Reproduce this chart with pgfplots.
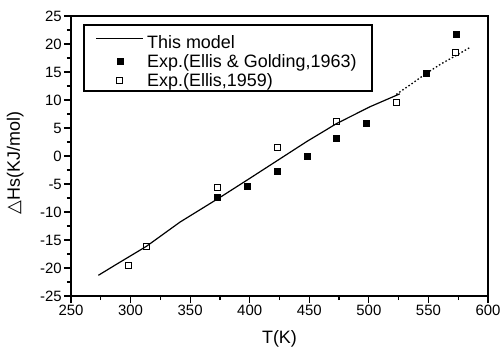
\documentclass[border=0pt]{standalone}
\usepackage{pgfplots}
\pgfplotsset{compat=1.18}
\usepackage{fontspec}
\setmainfont{Liberation Sans}
\newfontfamily\dejavu{DejaVu Sans}
\pgfplotsset{
  linelegend/.style={legend image code/.code={\draw[##1] (0bp,0bp) -- (47bp,0bp);}},
  marklegend/.style={legend image code/.code={\draw[##1,mark repeat=2,mark phase=2] plot coordinates {(0bp,0bp) (23.5bp,0bp) (47bp,0bp)};}},
}
\begin{document}
\begin{tikzpicture}
\useasboundingbox (-71bp,-52bp) rectangle (431bp,296bp);
\begin{axis}[
  at={(0,0)}, anchor=south west,
  scale only axis, width=417bp, height=280bp,
  xmin=250, xmax=600, ymin=-25, ymax=25,
  xtick={250,300,...,600}, ytick={-25,-20,...,25},
  minor x tick num=1, minor y tick num=1,
  tick pos=left, tick align=outside,
  major tick length=7bp, minor tick length=4bp,
  every tick/.style={black, line width=1.2bp},
  axis line style={line width=1.6bp},
  /pgf/number format/assume math mode=true,
  ticklabel style={font=\fontsize{15}{17}\selectfont, inner sep=2bp},
  xlabel={T(K)}, ylabel={{\dejavu △}Hs(KJ/mol)},
  label style={font=\fontsize{18}{20}\selectfont},
  xlabel style={yshift=-9bp},
  ylabel style={yshift=11bp, xshift=-7bp},
  legend cell align=left,
  legend style={at={(axis description cs:0.0288,0.9714)}, anchor=north west,
    draw=black, line width=1.6bp, font=\fontsize{18}{20}\selectfont,
    inner xsep=12bp, inner ysep=1.2bp, row sep=0.3bp,
    nodes={inner xsep=3.2bp, inner ysep=2bp}},
]
\addplot[black, line width=1.2bp, linelegend] coordinates {
(273,-21.3) (290,-19.1) (313.5,-16.1) (341.5,-11.8) (375,-7.4) (400,-4.0)
(424,-0.7) (448,2.6) (473,5.8) (501,8.8) (526,11.1)
};
\addlegendentry{\rule[-4.5bp]{0pt}{24.5bp}This model}
\addplot[black, only marks, mark=square*, mark size=3bp, mark options={line width=0.6bp}, marklegend] coordinates {
(373,-7.3) (398,-5.4) (423,-2.7) (448,0) (473,3.1) (498,5.8) (548,14.8) (573,21.8)
};
\addlegendentry{\rule[-4.5bp]{0pt}{18bp}Exp.(Ellis \& Golding,1963)}
\addplot[black, only marks, mark=square, mark size=3bp, mark options={line width=1bp}, marklegend] coordinates {
(298,-19.6) (313,-16.1) (373,-5.7) (423,1.6) (473,6.2) (523,9.5) (573,18.5)
};
\addlegendentry{\rule[-4.5bp]{0pt}{18bp}Exp.(Ellis,1959)}
\addplot[black, line width=1.3bp, dash pattern=on 1.5bp off 2.2bp, forget plot] coordinates {
(523,11.0) (536,12.9) (548.5,14.8) (561,16.5) (573.7,18.0) (585,19.4)
};
\end{axis}
\end{tikzpicture}
\end{document}
